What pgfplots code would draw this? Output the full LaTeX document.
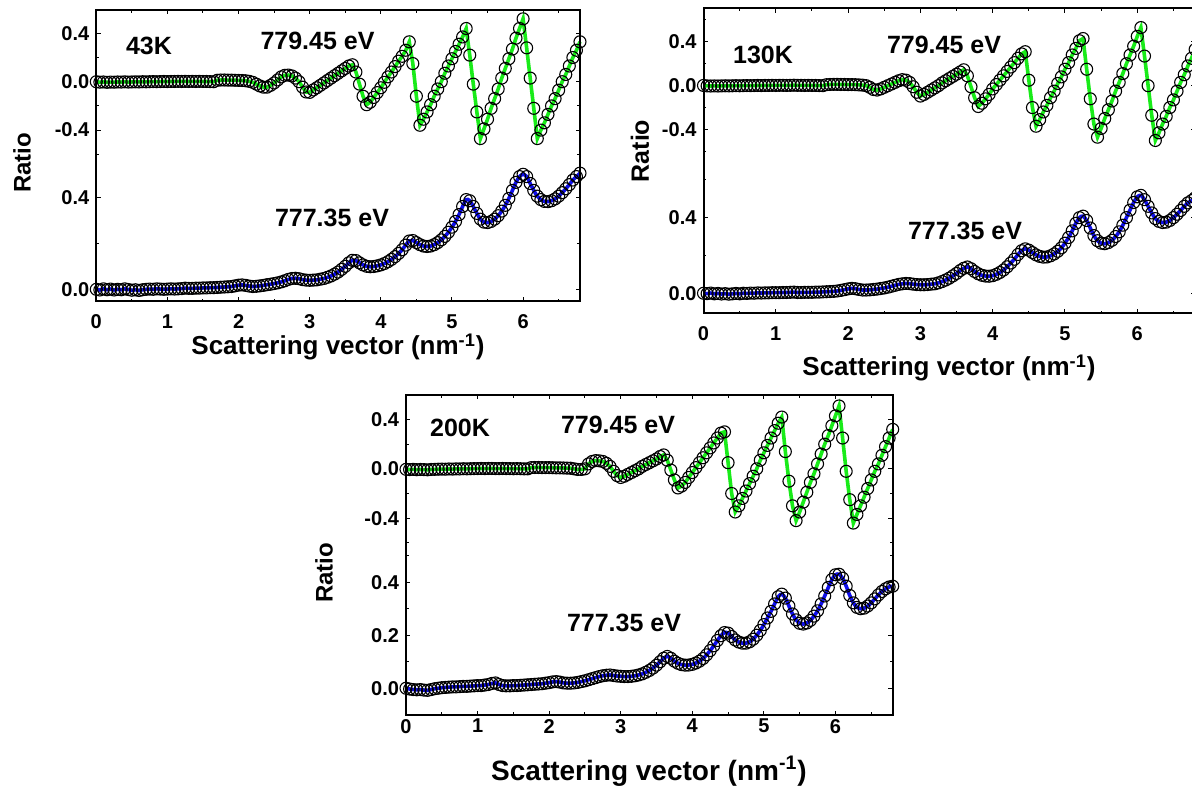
\documentclass[border=0pt]{standalone}
\usepackage{fontspec}
\setmainfont{Liberation Sans}
\usepackage{pgfplots}
\usepackage{pgfplotstable}
\pgfplotsset{compat=1.18}
\definecolor{fitgreen}{RGB}{25,235,25}
\definecolor{fitblue}{RGB}{15,15,235}

% ---------- 43K ----------
\pgfplotstableread[row sep=\\]{x y\\
0 0\\ 0.05 -0.004\\ 0.1 -0.002\\ 0.15 -0.005\\ 0.2 -0.003\\ 0.25 -0.004\\ 0.3 -0.002\\ 0.35 -0.003\\ 0.4 -0.001\\ 0.45 -0.003\\
0.5 -0.002\\ 0.55 -0.001\\ 0.6 -0.002\\ 0.65 0\\ 0.7 -0.001\\ 0.75 0\\ 0.8 0.001\\ 0.85 0\\ 0.9 0.001\\ 0.95 0.002\\
1.0 0.001\\ 1.05 0.002\\ 1.1 0.002\\ 1.15 0.003\\ 1.2 0.002\\ 1.25 0.003\\ 1.3 0.002\\ 1.35 0.003\\ 1.4 0.002\\ 1.45 0.003\\
1.5 0.002\\ 1.55 0.002\\ 1.6 0.001\\ 1.65 0\\ 1.7 0.012\\ 1.75 0.014\\ 1.8 0.014\\ 1.85 0.013\\ 1.9 0.013\\ 1.95 0.012\\
2.0 0.011\\ 2.05 0.01\\ 2.1 0.008\\ 2.15 0.003\\ 2.2 -0.005\\ 2.25 -0.02\\ 2.3 -0.035\\ 2.35 -0.045\\ 2.4 -0.045\\ 2.45 -0.03\\
2.5 -0.01\\ 2.55 0.015\\ 2.6 0.04\\ 2.65 0.053\\ 2.7 0.055\\ 2.75 0.048\\ 2.8 0.03\\ 2.85 0\\ 2.9 -0.045\\ 2.95 -0.085\\
3.0 -0.088\\ 3.05 -0.068\\ 3.1 -0.05\\ 3.15 -0.03\\ 3.2 -0.01\\ 3.25 0.01\\ 3.3 0.03\\ 3.35 0.05\\ 3.4 0.07\\ 3.45 0.09\\
3.5 0.11\\ 3.55 0.13\\ 3.6 0.14\\ 3.65 0.08\\ 3.7 -0.02\\ 3.75 -0.12\\ 3.8 -0.19\\ 3.85 -0.17\\ 3.9 -0.13\\ 3.95 -0.09\\
4.0 -0.05\\ 4.05 -0.005\\ 4.1 0.04\\ 4.15 0.08\\ 4.2 0.125\\ 4.25 0.17\\ 4.3 0.21\\ 4.35 0.26\\ 4.4 0.33\\ 4.45 0.15\\
4.5 -0.12\\ 4.55 -0.36\\ 4.6 -0.31\\ 4.65 -0.25\\ 4.7 -0.19\\ 4.75 -0.12\\ 4.8 -0.06\\ 4.85 0\\ 4.9 0.07\\ 4.95 0.13\\
5.0 0.19\\ 5.05 0.25\\ 5.1 0.31\\ 5.15 0.37\\ 5.2 0.44\\ 5.25 0.22\\ 5.3 -0.02\\ 5.35 -0.25\\ 5.4 -0.47\\ 5.45 -0.39\\
5.5 -0.31\\ 5.55 -0.22\\ 5.6 -0.14\\ 5.65 -0.06\\ 5.7 0.03\\ 5.75 0.11\\ 5.8 0.19\\ 5.85 0.27\\ 5.9 0.36\\ 5.95 0.44\\
6.0 0.52\\ 6.05 0.28\\ 6.1 0.03\\ 6.15 -0.22\\ 6.2 -0.47\\ 6.25 -0.4\\ 6.3 -0.34\\ 6.35 -0.27\\ 6.4 -0.2\\ 6.45 -0.14\\
6.5 -0.07\\ 6.55 0\\ 6.6 0.06\\ 6.65 0.13\\ 6.7 0.2\\ 6.75 0.26\\ 6.8 0.33\\
}\TopA

\pgfplotstableread[row sep=\\]{x y\\
0 0\\ 0.05 -0.003\\ 0.1 0.002\\ 0.15 -0.002\\ 0.2 0.001\\ 0.25 -0.003\\ 0.3 0\\ 0.35 -0.002\\ 0.4 0.002\\ 0.45 -0.001\\
0.5 -0.004\\ 0.55 -0.002\\ 0.6 -0.005\\ 0.65 -0.002\\ 0.7 0\\ 0.75 0.001\\ 0.8 0\\ 0.85 0.002\\ 0.9 0.001\\ 0.95 0\\
1.0 0.001\\ 1.05 0.002\\ 1.1 0.001\\ 1.15 0.002\\ 1.2 0.003\\ 1.25 0.005\\ 1.3 0.004\\ 1.35 0.004\\ 1.4 0.005\\ 1.45 0.005\\
1.5 0.006\\ 1.55 0.006\\ 1.6 0.007\\ 1.65 0.007\\ 1.7 0.008\\ 1.75 0.009\\ 1.8 0.01\\ 1.85 0.011\\ 1.9 0.012\\ 1.95 0.015\\
2.0 0.018\\ 2.05 0.019\\ 2.1 0.017\\ 2.15 0.014\\ 2.2 0.012\\ 2.25 0.013\\ 2.3 0.015\\ 2.35 0.017\\ 2.4 0.02\\ 2.45 0.022\\
2.5 0.025\\ 2.55 0.028\\ 2.6 0.032\\ 2.65 0.037\\ 2.7 0.043\\ 2.75 0.047\\ 2.8 0.048\\ 2.85 0.046\\ 2.9 0.042\\ 2.95 0.04\\
3.0 0.039\\ 3.05 0.04\\ 3.1 0.041\\ 3.15 0.044\\ 3.2 0.047\\ 3.25 0.052\\ 3.3 0.058\\ 3.35 0.066\\ 3.4 0.075\\ 3.45 0.087\\
3.5 0.1\\ 3.55 0.115\\ 3.6 0.126\\ 3.65 0.125\\ 3.7 0.115\\ 3.75 0.106\\ 3.8 0.1\\ 3.85 0.098\\ 3.9 0.099\\ 3.95 0.102\\
4.0 0.106\\ 4.05 0.112\\ 4.1 0.12\\ 4.15 0.13\\ 4.2 0.142\\ 4.25 0.156\\ 4.3 0.172\\ 4.35 0.192\\ 4.4 0.21\\ 4.45 0.212\\
4.5 0.203\\ 4.55 0.194\\ 4.6 0.188\\ 4.65 0.186\\ 4.7 0.188\\ 4.75 0.194\\ 4.8 0.203\\ 4.85 0.215\\ 4.9 0.23\\ 4.95 0.248\\
5.0 0.27\\ 5.05 0.295\\ 5.1 0.325\\ 5.15 0.36\\ 5.2 0.39\\ 5.25 0.385\\ 5.3 0.36\\ 5.35 0.33\\ 5.4 0.305\\ 5.45 0.292\\
5.5 0.29\\ 5.55 0.295\\ 5.6 0.305\\ 5.65 0.32\\ 5.7 0.34\\ 5.75 0.365\\ 5.8 0.395\\ 5.85 0.43\\ 5.9 0.465\\ 5.95 0.49\\
6.0 0.5\\ 6.05 0.49\\ 6.1 0.46\\ 6.15 0.43\\ 6.2 0.405\\ 6.25 0.39\\ 6.3 0.382\\ 6.35 0.381\\ 6.4 0.385\\ 6.45 0.393\\
6.5 0.405\\ 6.55 0.42\\ 6.6 0.437\\ 6.65 0.455\\ 6.7 0.475\\ 6.75 0.49\\ 6.8 0.505\\
}\BotA

% ---------- 130K ----------
\pgfplotstableread[row sep=\\]{x y\\
0 0.002\\ 0.05 -0.002\\ 0.1 -0.003\\ 0.15 -0.002\\ 0.2 -0.003\\ 0.25 -0.002\\ 0.3 -0.001\\ 0.35 -0.002\\ 0.4 -0.001\\ 0.45 0\\
0.5 -0.001\\ 0.55 0\\ 0.6 0.001\\ 0.65 0\\ 0.7 0.001\\ 0.75 0.002\\ 0.8 0.001\\ 0.85 0.002\\ 0.9 0.002\\ 0.95 0.003\\
1.0 0.002\\ 1.05 0.003\\ 1.1 0.003\\ 1.15 0.002\\ 1.2 0.003\\ 1.25 0.004\\ 1.3 0.003\\ 1.35 0.003\\ 1.4 0.002\\ 1.45 0.003\\
1.5 0.002\\ 1.55 0.002\\ 1.6 0.001\\ 1.65 0\\ 1.7 0.009\\ 1.75 0.011\\ 1.8 0.012\\ 1.85 0.012\\ 1.9 0.011\\ 1.95 0.011\\
2.0 0.01\\ 2.05 0.01\\ 2.1 0.009\\ 2.15 0.007\\ 2.2 0.005\\ 2.25 0\\ 2.3 -0.015\\ 2.35 -0.035\\ 2.4 -0.04\\ 2.45 -0.03\\
2.5 -0.015\\ 2.55 0\\ 2.6 0.015\\ 2.65 0.03\\ 2.7 0.045\\ 2.75 0.055\\ 2.8 0.05\\ 2.85 0.03\\ 2.9 -0.01\\ 2.95 -0.06\\
3.0 -0.095\\ 3.05 -0.08\\ 3.1 -0.06\\ 3.15 -0.04\\ 3.2 -0.02\\ 3.25 0\\ 3.3 0.025\\ 3.35 0.045\\ 3.4 0.065\\ 3.45 0.085\\
3.5 0.105\\ 3.55 0.125\\ 3.6 0.145\\ 3.65 0.09\\ 3.7 -0.01\\ 3.75 -0.11\\ 3.8 -0.19\\ 3.85 -0.16\\ 3.9 -0.12\\ 3.95 -0.08\\
4.0 -0.03\\ 4.05 0.01\\ 4.1 0.05\\ 4.15 0.09\\ 4.2 0.13\\ 4.25 0.17\\ 4.3 0.21\\ 4.35 0.25\\ 4.4 0.29\\ 4.45 0.31\\
4.5 0.05\\ 4.55 -0.2\\ 4.6 -0.37\\ 4.65 -0.31\\ 4.7 -0.24\\ 4.75 -0.18\\ 4.8 -0.11\\ 4.85 -0.05\\ 4.9 0.02\\ 4.95 0.08\\
5.0 0.15\\ 5.05 0.21\\ 5.1 0.28\\ 5.15 0.34\\ 5.2 0.41\\ 5.25 0.43\\ 5.3 0.15\\ 5.35 -0.12\\ 5.4 -0.35\\ 5.45 -0.47\\
5.5 -0.39\\ 5.55 -0.3\\ 5.6 -0.22\\ 5.65 -0.14\\ 5.7 -0.05\\ 5.75 0.03\\ 5.8 0.11\\ 5.85 0.2\\ 5.9 0.28\\ 5.95 0.36\\
6.0 0.45\\ 6.05 0.53\\ 6.1 0.27\\ 6.15 0\\ 6.2 -0.27\\ 6.25 -0.5\\ 6.3 -0.43\\ 6.35 -0.35\\ 6.4 -0.28\\ 6.45 -0.2\\
6.5 -0.13\\ 6.55 -0.05\\ 6.6 0.03\\ 6.65 0.1\\ 6.7 0.18\\ 6.75 0.25\\ 6.8 0.33\\
}\TopB

\pgfplotstableread[row sep=\\]{x y\\
0 0\\ 0.05 -0.002\\ 0.1 0.001\\ 0.15 -0.003\\ 0.2 -0.001\\ 0.25 -0.004\\ 0.3 -0.002\\ 0.35 -0.005\\ 0.4 -0.003\\ 0.45 -0.001\\
0.5 -0.003\\ 0.55 0\\ 0.6 -0.001\\ 0.65 0.001\\ 0.7 0\\ 0.75 0.002\\ 0.8 0.001\\ 0.85 0.002\\ 0.9 0.002\\ 0.95 0.003\\
1.0 0.003\\ 1.05 0.003\\ 1.1 0.004\\ 1.15 0.004\\ 1.2 0.005\\ 1.25 0.006\\ 1.3 0.004\\ 1.35 0.004\\ 1.4 0.005\\ 1.45 0.005\\
1.5 0.005\\ 1.55 0.006\\ 1.6 0.006\\ 1.65 0.007\\ 1.7 0.008\\ 1.75 0.009\\ 1.8 0.01\\ 1.85 0.012\\ 1.9 0.015\\ 1.95 0.019\\
2.0 0.023\\ 2.05 0.026\\ 2.1 0.024\\ 2.15 0.02\\ 2.2 0.017\\ 2.25 0.017\\ 2.3 0.018\\ 2.35 0.02\\ 2.4 0.022\\ 2.45 0.025\\
2.5 0.028\\ 2.55 0.032\\ 2.6 0.037\\ 2.65 0.042\\ 2.7 0.047\\ 2.75 0.05\\ 2.8 0.052\\ 2.85 0.051\\ 2.9 0.048\\ 2.95 0.046\\
3.0 0.045\\ 3.05 0.045\\ 3.1 0.046\\ 3.15 0.048\\ 3.2 0.05\\ 3.25 0.055\\ 3.3 0.062\\ 3.35 0.07\\ 3.4 0.08\\ 3.45 0.092\\
3.5 0.105\\ 3.55 0.12\\ 3.6 0.132\\ 3.65 0.139\\ 3.7 0.13\\ 3.75 0.115\\ 3.8 0.103\\ 3.85 0.095\\ 3.9 0.091\\ 3.95 0.09\\
4.0 0.093\\ 4.05 0.1\\ 4.1 0.11\\ 4.15 0.123\\ 4.2 0.14\\ 4.25 0.16\\ 4.3 0.18\\ 4.35 0.205\\ 4.4 0.225\\ 4.45 0.235\\
4.5 0.228\\ 4.55 0.215\\ 4.6 0.203\\ 4.65 0.195\\ 4.7 0.191\\ 4.75 0.192\\ 4.8 0.198\\ 4.85 0.208\\ 4.9 0.222\\ 4.95 0.24\\
5.0 0.265\\ 5.05 0.295\\ 5.1 0.33\\ 5.15 0.37\\ 5.2 0.4\\ 5.25 0.408\\ 5.3 0.385\\ 5.35 0.345\\ 5.4 0.305\\ 5.45 0.278\\
5.5 0.265\\ 5.55 0.262\\ 5.6 0.268\\ 5.65 0.28\\ 5.7 0.3\\ 5.75 0.325\\ 5.8 0.36\\ 5.85 0.4\\ 5.9 0.44\\ 5.95 0.48\\
6.0 0.51\\ 6.05 0.518\\ 6.1 0.495\\ 6.15 0.46\\ 6.2 0.425\\ 6.25 0.395\\ 6.3 0.38\\ 6.35 0.374\\ 6.4 0.376\\ 6.45 0.385\\
6.5 0.4\\ 6.55 0.418\\ 6.6 0.438\\ 6.65 0.46\\ 6.7 0.478\\ 6.75 0.49\\ 6.8 0.505\\
}\BotB

% ---------- 200K ----------
\pgfplotstableread[row sep=\\]{x y\\
0 -0.004\\ 0.05 -0.006\\ 0.1 -0.004\\ 0.15 -0.007\\ 0.2 -0.005\\ 0.25 -0.006\\ 0.3 -0.008\\ 0.35 -0.005\\ 0.4 -0.004\\ 0.45 -0.003\\
0.5 -0.002\\ 0.55 -0.003\\ 0.6 -0.001\\ 0.65 -0.002\\ 0.7 0\\ 0.75 -0.001\\ 0.8 0.001\\ 0.85 0\\ 0.9 0.001\\ 0.95 0.002\\
1.0 0.002\\ 1.05 0.003\\ 1.1 0.002\\ 1.15 0.003\\ 1.2 0.003\\ 1.25 0.002\\ 1.3 0.002\\ 1.35 0.003\\ 1.4 0.002\\ 1.45 0.002\\
1.5 0.001\\ 1.55 0.002\\ 1.6 0.001\\ 1.65 0\\ 1.7 0\\ 1.75 0.01\\ 1.8 0.011\\ 1.85 0.011\\ 1.9 0.01\\ 1.95 0.01\\
2.0 0.01\\ 2.05 0.009\\ 2.1 0.008\\ 2.15 0.008\\ 2.2 0.007\\ 2.25 0.006\\ 2.3 0.005\\ 2.35 0\\ 2.4 -0.005\\ 2.45 -0.005\\
2.5 0\\ 2.55 0.04\\ 2.6 0.06\\ 2.65 0.067\\ 2.7 0.065\\ 2.75 0.06\\ 2.8 0.045\\ 2.85 0.02\\ 2.9 -0.02\\ 2.95 -0.055\\
3.0 -0.07\\ 3.05 -0.06\\ 3.1 -0.045\\ 3.15 -0.03\\ 3.2 -0.015\\ 3.25 0\\ 3.3 0.02\\ 3.35 0.035\\ 3.4 0.05\\ 3.45 0.065\\
3.5 0.08\\ 3.55 0.1\\ 3.6 0.113\\ 3.65 0.07\\ 3.7 -0.01\\ 3.75 -0.09\\ 3.8 -0.155\\ 3.85 -0.14\\ 3.9 -0.11\\ 3.95 -0.07\\
4.0 -0.03\\ 4.05 0.01\\ 4.1 0.05\\ 4.15 0.09\\ 4.2 0.13\\ 4.25 0.17\\ 4.3 0.21\\ 4.35 0.25\\ 4.4 0.29\\ 4.45 0.3\\
4.5 0.05\\ 4.55 -0.2\\ 4.6 -0.35\\ 4.65 -0.3\\ 4.7 -0.24\\ 4.75 -0.18\\ 4.8 -0.12\\ 4.85 -0.06\\ 4.9 0\\ 4.95 0.07\\
5.0 0.13\\ 5.05 0.19\\ 5.1 0.25\\ 5.15 0.31\\ 5.2 0.37\\ 5.25 0.42\\ 5.3 0.14\\ 5.35 -0.1\\ 5.4 -0.3\\ 5.45 -0.42\\
5.5 -0.35\\ 5.55 -0.27\\ 5.6 -0.19\\ 5.65 -0.11\\ 5.7 -0.04\\ 5.75 0.04\\ 5.8 0.12\\ 5.85 0.2\\ 5.9 0.27\\ 5.95 0.35\\
6.0 0.43\\ 6.05 0.51\\ 6.1 0.25\\ 6.15 -0.02\\ 6.2 -0.25\\ 6.25 -0.44\\ 6.3 -0.37\\ 6.35 -0.3\\ 6.4 -0.23\\ 6.45 -0.16\\
6.5 -0.09\\ 6.55 -0.02\\ 6.6 0.04\\ 6.65 0.11\\ 6.7 0.18\\ 6.75 0.25\\ 6.8 0.32\\
}\TopC

\pgfplotstableread[row sep=\\]{x y\\
0 0\\ 0.05 -0.003\\ 0.1 -0.005\\ 0.15 -0.006\\ 0.2 -0.005\\ 0.25 -0.007\\ 0.3 -0.008\\ 0.35 -0.005\\ 0.4 -0.002\\ 0.45 0\\
0.5 0.002\\ 0.55 0.003\\ 0.6 0.004\\ 0.65 0.005\\ 0.7 0.005\\ 0.75 0.006\\ 0.8 0.007\\ 0.85 0.007\\ 0.9 0.008\\ 0.95 0.009\\
1.0 0.01\\ 1.05 0.01\\ 1.1 0.012\\ 1.15 0.014\\ 1.2 0.018\\ 1.25 0.02\\ 1.3 0.014\\ 1.35 0.01\\ 1.4 0.009\\ 1.45 0.009\\
1.5 0.01\\ 1.55 0.01\\ 1.6 0.011\\ 1.65 0.012\\ 1.7 0.013\\ 1.75 0.014\\ 1.8 0.015\\ 1.85 0.016\\ 1.9 0.017\\ 1.95 0.019\\
2.0 0.021\\ 2.05 0.024\\ 2.1 0.025\\ 2.15 0.023\\ 2.2 0.02\\ 2.25 0.019\\ 2.3 0.019\\ 2.35 0.02\\ 2.4 0.022\\ 2.45 0.025\\
2.5 0.028\\ 2.55 0.032\\ 2.6 0.036\\ 2.65 0.04\\ 2.7 0.044\\ 2.75 0.047\\ 2.8 0.049\\ 2.85 0.05\\ 2.9 0.048\\ 2.95 0.046\\
3.0 0.045\\ 3.05 0.044\\ 3.1 0.044\\ 3.15 0.045\\ 3.2 0.047\\ 3.25 0.05\\ 3.3 0.054\\ 3.35 0.06\\ 3.4 0.067\\ 3.45 0.076\\
3.5 0.087\\ 3.55 0.1\\ 3.6 0.113\\ 3.65 0.12\\ 3.7 0.113\\ 3.75 0.102\\ 3.8 0.094\\ 3.85 0.089\\ 3.9 0.087\\ 3.95 0.0875\\
4.0 0.09\\ 4.05 0.095\\ 4.1 0.102\\ 4.15 0.112\\ 4.2 0.126\\ 4.25 0.142\\ 4.3 0.16\\ 4.35 0.18\\ 4.4 0.198\\ 4.45 0.21\\
4.5 0.208\\ 4.55 0.195\\ 4.6 0.182\\ 4.65 0.174\\ 4.7 0.17\\ 4.75 0.17\\ 4.8 0.175\\ 4.85 0.185\\ 4.9 0.2\\ 4.95 0.218\\
5.0 0.24\\ 5.05 0.265\\ 5.1 0.29\\ 5.15 0.318\\ 5.2 0.345\\ 5.25 0.355\\ 5.3 0.34\\ 5.35 0.31\\ 5.4 0.28\\ 5.45 0.258\\
5.5 0.245\\ 5.55 0.242\\ 5.6 0.246\\ 5.65 0.256\\ 5.7 0.272\\ 5.75 0.292\\ 5.8 0.318\\ 5.85 0.348\\ 5.9 0.38\\ 5.95 0.41\\
6.0 0.428\\ 6.05 0.43\\ 6.1 0.415\\ 6.15 0.385\\ 6.2 0.35\\ 6.25 0.322\\ 6.3 0.305\\ 6.35 0.3\\ 6.4 0.302\\ 6.45 0.31\\
6.5 0.322\\ 6.55 0.337\\ 6.6 0.352\\ 6.65 0.365\\ 6.7 0.375\\ 6.75 0.382\\ 6.8 0.385\\
}\BotC

\pgfplotsset{
  panel/.style={scale only axis, clip=false, xmin=0, xmax=6.8,
    xtick={0,1,2,3,4,5,6}, minor xtick={0.5,1.5,2.5,3.5,4.5,5.5,6.5},
    tick align=inside, major tick length=2.2pt, minor tick length=1.3pt,
    every tick/.style={black, line width=0.5pt},
    ytick pos=both,
    axis line style={draw=none},
    tick label style={font=\fontsize{10}{12}\selectfont\bfseries},
    /pgf/number format/assume math mode=true,
    yticklabel style={/pgf/number format/.cd, fixed, fixed zerofill, precision=1},
  },
  upper/.style={panel, xtick pos=right, xticklabels={,,,,,,}, ytick={-0.4,0,0.4}, minor ytick={-0.6,-0.2,0.2,0.6}},
  lower/.style={panel, xtick pos=left},
  dat/.style={only marks, mark=o, mark size=3pt, mark options={line width=0.55pt, draw=black}},
  fitg/.style={no marks, line width=1.8pt, fitgreen},
  fitb/.style={no marks, line width=1.8pt, fitblue, smooth},
}
\newcommand{\topframe}{\draw[line width=1pt, line join=miter] (rel axis cs:0,0) -- (rel axis cs:0,1) -- (rel axis cs:1,1) -- (rel axis cs:1,0);}
\newcommand{\botframe}{\draw[line width=1pt, line join=miter] (rel axis cs:0,1) -- (rel axis cs:0,0) -- (rel axis cs:1,0) -- (rel axis cs:1,1);}

\begin{document}
\begin{tikzpicture}[x=1pt,y=1pt]
% ===== Panel 1: 43K =====
\begin{axis}[upper, at={(48.15pt,315.85pt)}, anchor=south west, width=241.85pt, height=72.15pt, ymin=-0.600, ymax=0.593]
\addplot[dat] table {\TopA};
\addplot[fitg] table {\TopA};
\topframe
\end{axis}
\begin{axis}[lower, at={(48.15pt,242.25pt)}, anchor=south west, width=241.85pt, height=73.6pt, ymin=-0.053, ymax=0.587,
  ytick={0,0.4}, minor ytick={0.2}, xticklabel style={yshift=-3pt}]
\addplot[dat] table {\BotA};
\addplot[fitb] table {\BotA};
\botframe
\end{axis}
\node[font=\fontsize{12.5}{14}\selectfont\bfseries] at (74.5pt,370pt) {43K};
\node[font=\fontsize{12.5}{14}\selectfont\bfseries] at (158.75pt,372.5pt) {779.45 eV};
\node[font=\fontsize{12.5}{14}\selectfont\bfseries] at (166pt,284pt) {777.35 eV};
\node[font=\fontsize{12}{14}\selectfont\bfseries, rotate=90] at (11pt,311.5pt) {Ratio};
\node[font=\fontsize{13}{15}\selectfont\bfseries] at (169pt,219.5pt) {Scattering vector (nm\textsuperscript{-1})};

% ===== Panel 2: 130K =====
\begin{axis}[upper, at={(351.75pt,313pt)}, anchor=south west, width=245.8pt, height=75.85pt, ymin=-0.678, ymax=0.706]
\addplot[dat] table {\TopB};
\addplot[fitg] table {\TopB};
\topframe
\end{axis}
\begin{axis}[lower, at={(351.75pt,236.35pt)}, anchor=south west, width=245.8pt, height=76.65pt, ymin=-0.106, ymax=0.705,
  ytick={0,0.4}, minor ytick={0.2,0.6}, xticklabel style={yshift=-3pt}]
\addplot[dat] table {\BotB};
\addplot[fitb] table {\BotB};
\botframe
\end{axis}
\node[font=\fontsize{12.5}{14}\selectfont\bfseries] at (381.5pt,365.5pt) {130K};
\node[font=\fontsize{12.5}{14}\selectfont\bfseries] at (472pt,370.5pt) {779.45 eV};
\node[font=\fontsize{12.5}{14}\selectfont\bfseries] at (482.5pt,277.5pt) {777.35 eV};
\node[font=\fontsize{12.5}{14}\selectfont\bfseries, rotate=90] at (320pt,317.5pt) {Ratio};
\node[font=\fontsize{13}{15}\selectfont\bfseries] at (474.5pt,209pt) {Scattering vector (nm\textsuperscript{-1})};

% ===== Panel 3: 200K =====
\begin{axis}[upper, at={(203pt,116.35pt)}, anchor=south west, width=243.35pt, height=79.15pt, ymin=-0.685, ymax=0.599]
\addplot[dat] table {\TopC};
\addplot[fitg] table {\TopC};
\topframe
\end{axis}
\begin{axis}[lower, at={(203pt,35.5pt)}, anchor=south west, width=243.35pt, height=80.85pt, ymin=-0.101, ymax=0.509,
  ytick={0,0.2,0.4}, minor ytick={0.1,0.3,0.5}, xticklabel style={yshift=1.5pt}]
\addplot[dat] table {\BotC};
\addplot[fitb] table {\BotC};
\botframe
\end{axis}
\node[font=\fontsize{12.5}{14}\selectfont\bfseries] at (230pt,179.25pt) {200K};
\node[font=\fontsize{12.5}{14}\selectfont\bfseries] at (309pt,180.5pt) {779.45 eV};
\node[font=\fontsize{12.5}{14}\selectfont\bfseries] at (312pt,81.5pt) {777.35 eV};
\node[font=\fontsize{12}{14}\selectfont\bfseries, rotate=90] at (162pt,106.5pt) {Ratio};
\node[font=\fontsize{14}{16}\selectfont\bfseries] at (324.5pt,7.5pt) {Scattering vector (nm\textsuperscript{-1})};

\pgfresetboundingbox
\useasboundingbox (0pt,0pt) rectangle (596pt,393pt);
\end{tikzpicture}
\end{document}
